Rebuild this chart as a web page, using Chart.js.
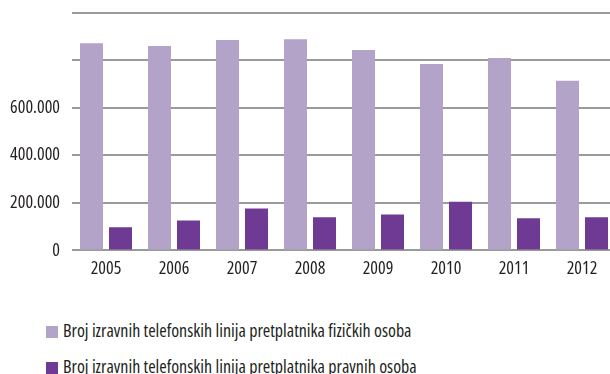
<!DOCTYPE html>
<html>
<head>
<meta charset="utf-8">
<script src="https://cdn.jsdelivr.net/npm/chart.js@4/dist/chart.umd.min.js"></script>
<style>
  html, body { margin: 0; padding: 0; background: #fff; overflow: hidden; }
  body { width: 610px; height: 374px; position: relative; }
  .chart { position: absolute; left: 0; top: -10px; width: 616px; height: 298px; }
  .legend { position: absolute; left: 46px; top: 318px; font-family: 'Open Sans', sans-serif; font-stretch: condensed; font-size: 18px; color: #231f20; }
  .legend div { height: 36px; line-height: 24px; white-space: nowrap; }
  .legend span { display: inline-block; width: 12px; height: 12px; margin-right: 5px; vertical-align: -1px; }
</style>
</head>
<body>
<div class="chart"><canvas id="myChart"></canvas></div>
<div class="legend" id="legend"></div>
<script>
// godine
const years = ['2005', '2006', '2007', '2008', '2009', '2010', '2011', '2012'];
// fizičke osobe
const fizicke = [872000, 860000, 885000, 889000, 843000, 785000, 810000, 714000];
// pravne osobe
const pravne = [97000, 126000, 176000, 139000, 151000, 205000, 135000, 139000];

const names = [
  'Broj izravnih telefonskih linija pretplatnika fizičkih osoba',
  'Broj izravnih telefonskih linija pretplatnika pravnih osoba'
];
const colors = ['#b3a3c9', '#6f3a93'];
// uski font (Open Sans condensed)
const font = { family: "'Open Sans', sans-serif", size: 18, style: 'normal', weight: 'normal condensed' };

function fmt(v) { //600000 -> 600.000
  return String(v).replace(/\B(?=(\d{3})+(?!\d))/g, '.');
}

const config = {
  type: 'bar',
  data: {
    labels: years,
    datasets: [
      { label: names[0], data: fizicke, backgroundColor: colors[0] },
      { label: names[1], data: pravne, backgroundColor: colors[1] }
    ]
  },
  options: {
    responsive: true,
    maintainAspectRatio: false,
    animation: false,
    categoryPercentage: 0.853,
    barPercentage: 0.793,
    layout: { padding: { top: 0, bottom: 8, left: 0, right: 0 } },
    plugins: { legend: { display: false }, tooltip: { enabled: false } },
    scales: {
      x: {
        grid: { display: false },
        border: { display: false },
        ticks: { color: '#231f20', padding: 0, font: font }
      },
      y: {
        min: 0,
        max: 1000000,
        afterFit: function(s) { s.width = 72; },
        border: { display: false },
        grid: { color: '#9a9a9a', lineWidth: 2, drawTicks: false },
        ticks: {
          stepSize: 200000,
          padding: 12,
          color: '#231f20',
          font: font,
          callback: function(v) { return v > 600000 ? '' : fmt(v); }
        }
      }
    }
  }
};

const myChart = new Chart(document.getElementById('myChart'), config);

// legenda ispod grafa
let html = '';
for (let i = 0; i < names.length; i++) {
  html += '<div><span style="background:' + colors[i] + '"></span>' + names[i] + '</div>';
}
document.getElementById('legend').innerHTML = html;
</script>
</body>
</html>
